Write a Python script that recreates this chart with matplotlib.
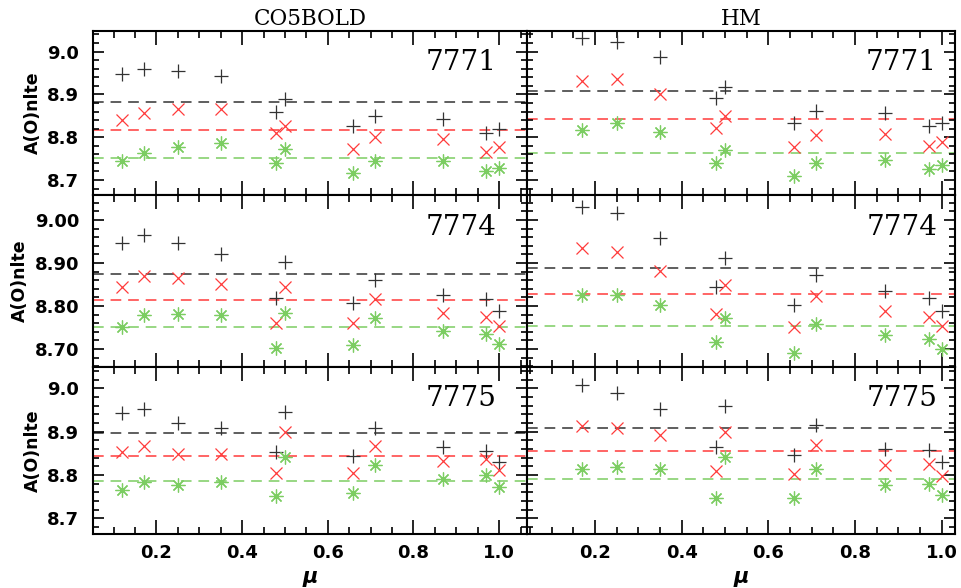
import matplotlib
matplotlib.use('Agg')
import matplotlib.pyplot as plt
from matplotlib.ticker import MultipleLocator, FormatStrFormatter

# mu points of the two model grids
mu_co5 = [0.12, 0.17, 0.25, 0.35, 0.48, 0.50, 0.66, 0.71, 0.87, 0.97, 1.00]
mu_hm = [0.17, 0.25, 0.35, 0.48, 0.50, 0.66, 0.71, 0.87, 0.97, 1.00]

models = ['CO5BOLD', 'HM']
lines = ['7771', '7774', '7775']

# CO5BOLD: black (+), red (x), green (*)
co5_7771_k = [8.948, 8.959, 8.955, 8.943, 8.860, 8.889, 8.825, 8.850, 8.843, 8.809, 8.819]
co5_7771_r = [8.840, 8.856, 8.865, 8.867, 8.809, 8.826, 8.772, 8.801, 8.795, 8.766, 8.778]
co5_7771_g = [8.744, 8.762, 8.778, 8.787, 8.739, 8.772, 8.717, 8.745, 8.745, 8.722, 8.727]

co5_7774_k = [8.946, 8.964, 8.946, 8.921, 8.818, 8.903, 8.806, 8.860, 8.826, 8.816, 8.789]
co5_7774_r = [8.845, 8.870, 8.864, 8.851, 8.761, 8.845, 8.760, 8.816, 8.784, 8.775, 8.753]
co5_7774_g = [8.752, 8.779, 8.781, 8.779, 8.702, 8.783, 8.709, 8.773, 8.742, 8.735, 8.712]

co5_7775_k = [8.942, 8.952, 8.919, 8.909, 8.852, 8.946, 8.844, 8.908, 8.865, 8.855, 8.831]
co5_7775_r = [8.852, 8.867, 8.848, 8.848, 8.804, 8.898, 8.804, 8.867, 8.833, 8.836, 8.812]
co5_7775_g = [8.765, 8.785, 8.777, 8.783, 8.752, 8.841, 8.758, 8.823, 8.791, 8.800, 8.773]

# HM
hm_7771_k = [9.031, 9.023, 8.987, 8.891, 8.917, 8.834, 8.862, 8.857, 8.826, 8.834]
hm_7771_r = [8.931, 8.936, 8.901, 8.821, 8.850, 8.778, 8.805, 8.807, 8.780, 8.788]
hm_7771_g = [8.817, 8.832, 8.811, 8.740, 8.770, 8.710, 8.740, 8.747, 8.725, 8.735]

hm_7774_k = [9.031, 9.017, 8.959, 8.845, 8.912, 8.802, 8.872, 8.835, 8.818, 8.788]
hm_7774_r = [8.934, 8.926, 8.881, 8.781, 8.849, 8.750, 8.823, 8.788, 8.775, 8.753]
hm_7774_g = [8.826, 8.826, 8.802, 8.715, 8.773, 8.690, 8.757, 8.733, 8.722, 8.699]

hm_7775_k = [9.008, 8.988, 8.952, 8.865, 8.958, 8.846, 8.915, 8.860, 8.858, 8.831]
hm_7775_r = [8.913, 8.908, 8.892, 8.810, 8.900, 8.802, 8.869, 8.823, 8.825, 8.798]
hm_7775_g = [8.813, 8.818, 8.813, 8.746, 8.842, 8.746, 8.815, 8.777, 8.779, 8.754]

# mean levels (dashed), per line 7771/7774/7775
co5_mean_k = [8.882, 8.874, 8.896]
co5_mean_r = [8.817, 8.814, 8.844]
co5_mean_g = [8.751, 8.752, 8.786]
hm_mean_k = [8.909, 8.889, 8.908]
hm_mean_r = [8.842, 8.827, 8.855]
hm_mean_g = [8.762, 8.753, 8.790]

data = {
    'CO5BOLD': (mu_co5, [(co5_7771_k, co5_7771_r, co5_7771_g),
                         (co5_7774_k, co5_7774_r, co5_7774_g),
                         (co5_7775_k, co5_7775_r, co5_7775_g)],
                (co5_mean_k, co5_mean_r, co5_mean_g)),
    'HM': (mu_hm, [(hm_7771_k, hm_7771_r, hm_7771_g),
                   (hm_7774_k, hm_7774_r, hm_7774_g),
                   (hm_7775_k, hm_7775_r, hm_7775_g)],
           (hm_mean_k, hm_mean_r, hm_mean_g)),
}

black, red, green = '#333333', '#ff3b3b', '#7ccd62'
colors = [black, red, green]
markers = ['+', 'x', (8, 2, 0)]
msizes = [10, 9, 10]

W, H = 961, 588
fig = plt.figure(figsize=(W / 100, H / 100), dpi=100)

cols = [(93, 527), (527, 955)]
rows = [(31, 195), (195, 367), (367, 534)]
xlims = [(0.052, 1.065), (0.043, 1.031)]
ylims = [(8.665, 9.048), (8.658, 9.058), (8.664, 9.049)]
yfmt = ['%.1f', '%.2f', '%.1f']
label_x = [0.929, 0.958]

tick_font = {'family': 'DejaVu Sans', 'weight': 'bold', 'size': 13}

for c, model in enumerate(models):
    mu, series, means = data[model]
    for r, line in enumerate(lines):
        x0, x1 = cols[c]
        y0, y1 = rows[r]
        ax = fig.add_axes([x0 / W, 1 - y1 / H, (x1 - x0) / W, (y1 - y0) / H])

        for i in range(3):
            ax.axhline(means[i][r], color=colors[i], lw=1.1, dashes=(7, 4.5), zorder=1)
            ax.plot(mu, series[r][i], ls='none', marker=markers[i], ms=msizes[i],
                    mec=colors[i], mfc='none', mew=0.9, zorder=2)

        ax.set_xlim(*xlims[c])
        ax.set_ylim(*ylims[r])
        ax.xaxis.set_major_locator(MultipleLocator(0.2))
        ax.xaxis.set_minor_locator(MultipleLocator(0.05))
        ax.yaxis.set_major_locator(MultipleLocator(0.1))
        ax.yaxis.set_minor_locator(MultipleLocator(0.02))
        ax.yaxis.set_major_formatter(FormatStrFormatter(yfmt[r]))
        ax.xaxis.set_major_formatter(FormatStrFormatter('%.1f'))

        ax.tick_params(which='both', direction='in', top=True, right=True,
                       labelbottom=(r == 2), labelleft=(c == 0), width=1.2)
        ax.tick_params(axis='x', which='major', length=10, pad=7)
        ax.tick_params(axis='x', which='minor', length=5)
        ax.tick_params(axis='y', which='major', length=8, pad=10)
        ax.tick_params(axis='y', which='minor', length=4.5)
        for lab in ax.get_xticklabels() + ax.get_yticklabels():
            lab.set_fontproperties(tick_font)
        for sp in ax.spines.values():
            sp.set_linewidth(1.5)

        ax.text(label_x[c], 0.81, line, transform=ax.transAxes, ha='right', va='center',
                family='DejaVu Serif', fontsize=20)

        if c == 0:
            ax.set_ylabel('A(O)nlte', fontsize=12.5, fontweight='bold', labelpad=4)
        if r == 0:
            ax.set_title(model, family='DejaVu Serif', fontsize=15.5, pad=4)
        if r == 2:
            ax.set_xlabel('μ', fontsize=15, fontweight='bold', fontstyle='italic', labelpad=4)

fig.savefig('out.png', dpi=100)
